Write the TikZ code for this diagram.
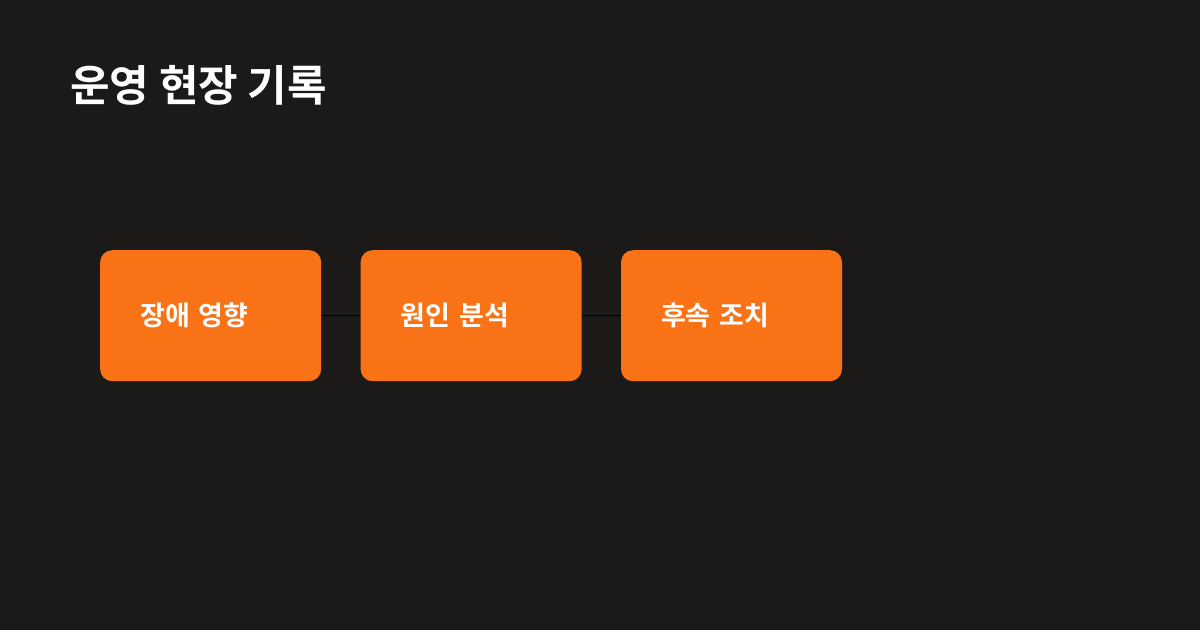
\documentclass[tikz,border=0pt]{standalone}
\usepackage{fontspec}
\setmainfont{Noto Sans CJK KR}[BoldFont={Noto Sans CJK KR Bold}]
\usepackage{tikz}
\usetikzlibrary{positioning}
\definecolor{bgdark}{HTML}{1B1A19}
\definecolor{boxorange}{HTML}{F97316}
\tikzset{
	box/.style={fill=boxorange, rounded corners=12pt, minimum width=221pt, minimum height=131pt, text width=141pt, inner xsep=40pt, align=left, text=white, font=\bfseries\fontsize{27pt}{31pt}\selectfont},
	link/.style={draw=black, line width=1pt}
}

\begin{document}
\begin{tikzpicture}[x=1pt, y=1pt]
					\fill[bgdark] (0,0) rectangle (1200,-630);
					\useasboundingbox (0,0) rectangle (1200,-630);
					
					\node[anchor=base west, text=white, font=\bfseries\fontsize{43pt}{50pt}\selectfont, inner sep=0pt] (title) at (70,-101) {운영 현장 기록};
					
					\node[box, anchor=north west] (impact) at (100,-250) {장애 영향};
					\node[box, right=39pt of impact] (cause) {원인 분석};
					\node[box, right=39pt of cause] (followup) {후속 조치};
					
					\draw[link] (impact) -- (cause);
					\draw[link] (cause) -- (followup);
				\end{tikzpicture}
\end{document}
